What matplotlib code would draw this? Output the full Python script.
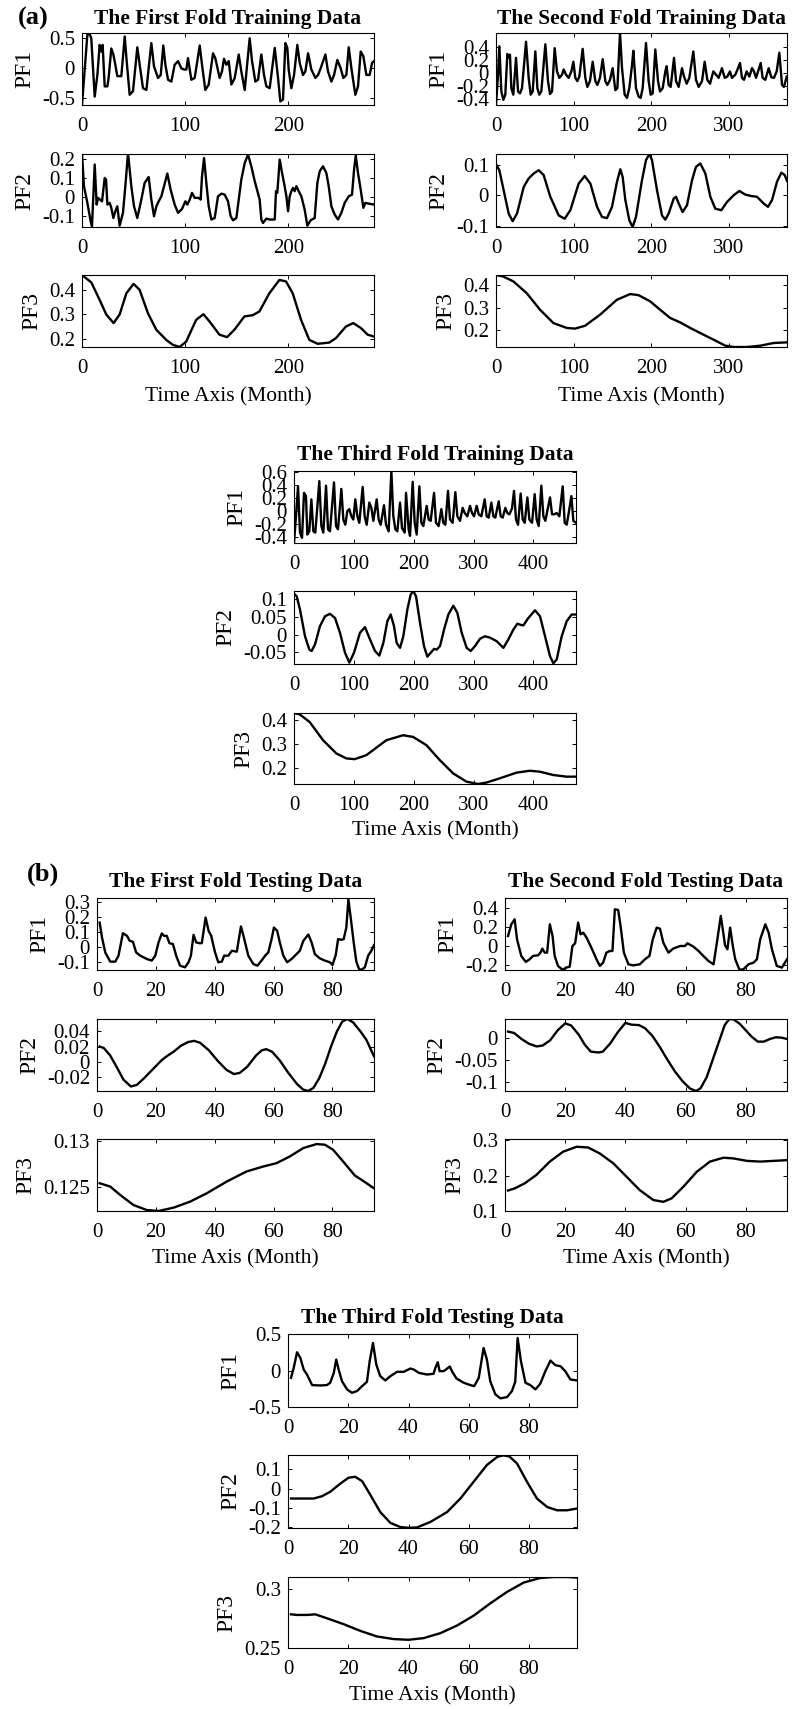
import matplotlib
matplotlib.use('Agg')
import matplotlib.pyplot as plt
from matplotlib.ticker import FuncFormatter

plt.rcParams['font.family'] = ['Liberation Serif', 'DejaVu Serif']

# ---------------- (a) training data ----------------
tr1_pf1_x = [0, 5.2, 7.4, 9.0, 12.3, 14.9, 17.1, 18.7, 20.0, 22.0, 24.6, 25.8, 28.4, 30.4, 32.3, 34.2, 36.2, 38.1,
             41.4, 43.3, 46.2, 49.4, 53.6, 55.9, 59.1, 62.4, 64.6, 67.2, 69.8, 73.7, 76.3, 78.8, 80.8, 83.4, 86.6,
             89.8, 93.1, 96.3, 98.9, 101.1, 102.7, 106.0, 109.2, 114.1, 116.3, 119.5, 122.8, 127.0, 129.2, 133.4,
             135.7, 137.6, 139.9, 142.2, 144.8, 148.0, 151.9, 154.4, 157.7, 162.5, 164.8, 168.0, 170.6, 173.8,
             176.4, 178.7, 181.9, 186.8, 190.0, 192.2, 194.8, 197.1, 199.0, 200.3, 202.9, 205.5, 208.7, 211.0,
             214.2, 216.5, 219.1, 222.3, 226.2, 228.8, 231.3, 235.9, 238.4, 241.7, 244.3, 247.5, 250.7, 253.3,
             256.2, 258.5, 261.1, 264.9, 267.5, 270.1, 272.7, 275.6, 278.8, 281.1, 283.0]
tr1_pf1_y = [-0.62, 0.55, 0.56, 0.49, -0.48, -0.12, 0.38, 0.27, 0.38, -0.31, -0.31, -0.17, 0.32, 0.22, 0.05, -0.14,
             -0.14, -0.14, 0.52, 0.11, -0.45, -0.39, 0.34, 0.05, -0.34, -0.37, -0.01, 0.41, 0.02, -0.17, -0.12,
             0.37, 0.05, -0.2, -0.23, 0.05, 0.11, -0.01, -0.03, -0.03, 0.16, -0.2, -0.17, 0.37, 0.05, -0.37, -0.28,
             0.24, 0.16, -0.17, -0.06, 0.15, 0.05, 0.11, -0.28, -0.17, 0.22, -0.06, -0.37, 0.49, 0.11, -0.23, -0.2,
             0.22, -0.12, -0.31, -0.34, 0.33, -0.17, -0.56, -0.53, 0.41, 0.33, -0.03, -0.34, -0.12, 0.38, 0.08,
             -0.12, -0.06, 0.24, -0.03, -0.17, -0.12, -0.01, 0.22, -0.06, -0.23, -0.12, 0.13, -0.01, -0.17, -0.12,
             0.34, -0.01, -0.45, -0.31, 0.27, 0.19, -0.12, -0.12, 0.08, 0.11]

tr1_pf2_x = [0, 1.9, 5.2, 8.4, 9.7, 12.3, 14.2, 15.5, 17.4, 19.4, 22.0, 23.3, 24.6, 26.8, 28.4, 30.4, 32.3, 34.2,
             36.5, 39.7, 42.0, 44.6, 47.8, 50.4, 53.6, 57.5, 60.7, 64.6, 67.2, 69.8, 72.1, 74.3, 76.9, 79.5, 82.7,
             85.9, 89.8, 93.1, 96.9, 100.2, 102.1, 104.4, 106.6, 109.2, 113.1, 115.0, 116.3, 118.3, 120.5, 122.8,
             125.4, 128.6, 131.8, 135.1, 138.3, 141.5, 144.1, 146.4, 149.6, 154.4, 157.7, 160.9, 164.1, 167.4,
             172.2, 173.8, 175.4, 178.7, 181.9, 186.8, 188.0, 189.3, 191.6, 193.9, 196.4, 198.1, 199.7, 201.3,
             202.9, 204.5, 206.1, 207.8, 210.0, 212.6, 215.8, 218.4, 221.6, 225.5, 228.1, 230.4, 233.6, 236.8,
             239.1, 241.7, 244.9, 248.1, 251.4, 254.6, 258.5, 261.7, 263.7, 265.3, 267.5, 270.1, 272.7, 274.6,
             277.9, 283.0]
tr1_pf2_y = [0.221, 0.056, -0.031, -0.127, -0.153, 0.169, -0.040, -0.005, -0.014, -0.023, 0.099, 0.090, -0.040,
             -0.031, -0.057, -0.110, -0.075, -0.049, -0.150, -0.083, 0.056, 0.230, 0.056, -0.049, -0.110, -0.014,
             0.073, 0.104, -0.014, -0.101, -0.049, -0.023, 0.003, 0.056, 0.122, 0.038, -0.040, -0.083, -0.063,
             -0.023, -0.040, -0.014, 0.021, -0.005, -0.005, -0.014, 0.108, 0.203, 0.073, -0.049, -0.118, -0.110,
             0.003, 0.017, 0.012, -0.023, -0.101, -0.122, -0.110, 0.090, 0.177, 0.221, 0.160, 0.082, -0.014, -0.118,
             -0.136, -0.113, -0.118, -0.118, 0.030, 0.021, 0.195, 0.125, 0.056, 0.003, -0.075, 0.003, 0.030, 0.047,
             0.030, 0.056, 0.030, 0.003, -0.066, -0.150, -0.122, -0.110, 0.073, 0.134, 0.160, 0.125, 0.056, -0.049,
             -0.092, -0.118, -0.083, -0.031, 0.003, 0.012, 0.143, 0.216, 0.125, 0.038, -0.057, -0.031, -0.035,
             -0.040]

tr1_pf3_x = [0, 9, 17, 23.5, 30.6, 36.5, 43, 50, 55.8, 63.9, 72, 81.6, 88, 94.5, 101, 110.6, 117.7, 123.5, 133.2,
             140.6, 147.7, 157.4, 165.5, 171.9, 181.6, 191.3, 197.7, 204.2, 212.3, 220.3, 228.4, 239.7, 246.1,
             255.8, 262.9, 270.3, 276.8, 282.6]
tr1_pf3_y = [0.46, 0.43, 0.36, 0.30, 0.265, 0.30, 0.386, 0.424, 0.40, 0.305, 0.238, 0.197, 0.177, 0.168, 0.19,
             0.278, 0.301, 0.272, 0.218, 0.208, 0.238, 0.292, 0.297, 0.312, 0.386, 0.44, 0.434, 0.386, 0.278, 0.197,
             0.181, 0.186, 0.204, 0.251, 0.265, 0.245, 0.218, 0.211]

tr2_pf1_x = [0, 2.6, 4.3, 6.9, 9.5, 12.0, 14.6, 16.3, 18.0, 19.8, 22.3, 25.8, 28.4, 30.9, 33.5, 38.7, 42.1, 44.7,
             47.3, 50.7, 53.3, 55.8, 58.4, 63.6, 67.0, 69.6, 72.2, 75.6, 78.6, 81.6, 85.1, 87.2, 90.2, 93.6, 97.1,
             99.7, 102.2, 104.8, 107.4, 111.7, 115.1, 117.7, 121.1, 124.6, 128.0, 130.6, 134.0, 137.5, 140.9,
             143.5, 146.9, 150.3, 153.8, 156.4, 159.8, 162.4, 165.8, 168.8, 171.8, 175.3, 177.0, 180.4, 183.8,
             186.4, 189.0, 193.3, 196.7, 199.3, 201.9, 205.3, 208.8, 211.3, 214.8, 218.2, 219.9, 222.5, 225.1,
             229.4, 232.0, 235.4, 239.7, 242.3, 245.7, 249.1, 254.3, 257.7, 261.2, 265.5, 268.9, 272.3, 275.8,
             280.1, 283.5, 286.9, 291.2, 294.7, 298.1, 301.5, 304.1, 308.4, 311.9, 314.4, 317.0, 319.6, 323.0,
             326.5, 329.9, 332.5, 335.1, 338.5, 341.1, 343.6, 347.1, 351.4, 354.8, 358.2, 361.7, 365.1, 368.6,
             371.1, 374.6]
tr2_pf1_y = [-0.50, -0.03, 0.41, -0.29, -0.42, -0.34, 0.29, 0.23, 0.28, -0.24, -0.34, 0.23, -0.29, -0.32, -0.24,
             0.48, -0.08, -0.34, -0.29, 0.33, -0.24, -0.34, -0.29, 0.44, -0.13, -0.33, -0.29, 0.38, 0.02, -0.08,
             -0.03, 0.05, -0.03, -0.08, 0.02, 0.17, -0.08, -0.13, -0.06, 0.37, -0.08, -0.22, -0.13, 0.17, -0.13,
             -0.19, -0.08, 0.21, -0.13, -0.19, -0.11, 0.07, -0.27, -0.24, 0.615, 0.07, -0.34, -0.39, -0.24, 0.12,
             0.34, -0.24, -0.37, -0.39, -0.24, 0.46, -0.13, -0.34, -0.32, 0.36, -0.13, -0.29, -0.24, 0.02, 0.10,
             -0.19, -0.22, 0.23, -0.13, -0.22, 0.07, -0.06, -0.17, -0.08, 0.33, -0.11, -0.22, -0.13, 0.17, -0.11,
             -0.17, 0.02, -0.03, -0.08, 0.07, -0.08, -0.06, 0.02, -0.08, -0.03, 0.07, 0.15, -0.08, -0.11, 0.02,
             -0.06, 0.07, 0.02, -0.08, 0.05, 0.15, -0.08, -0.11, 0.07, -0.07, -0.08, 0.02, 0.31, -0.19, -0.22,
             -0.06]

tr2_pf2_x = [0, 4.3, 9.9, 16.3, 21.5, 27.1, 35.7, 42.1, 48.5, 55.0, 61.4, 70.0, 80.8, 88.5, 95.8, 106.5, 114.3,
             121.6, 130.2, 136.6, 143.0, 149.5, 155.9, 160.2, 163.2, 166.7, 171.8, 176.1, 180.4, 188.1, 193.3,
             197.6, 201.0, 207.5, 213.9, 218.2, 222.5, 229.0, 232.0, 235.4, 240.5, 246.1, 252.6, 257.7, 263.3,
             269.8, 276.2, 282.6, 290.4, 297.7, 306.3, 313.6, 321.3, 329.9, 336.3, 344.9, 350.5, 355.7, 362.1,
             367.7, 372.0, 375.0]
tr2_pf2_y = [0.102, 0.082, 0.016, -0.060, -0.085, -0.060, 0.027, 0.055, 0.071, 0.082, 0.066, -0.005, -0.066,
             -0.077, -0.049, 0.038, 0.063, 0.038, -0.038, -0.071, -0.075, -0.038, 0.044, 0.085, 0.060, -0.016,
             -0.082, -0.104, -0.071, 0.049, 0.115, 0.135, 0.115, 0.016, -0.066, -0.080, -0.060, -0.011, -0.005,
             -0.027, -0.055, -0.033, 0.049, 0.093, 0.104, 0.071, -0.005, -0.044, -0.049, -0.022, 0.000, 0.014,
             0.002, -0.003, -0.005, -0.027, -0.038, -0.016, 0.044, 0.074, 0.066, 0.047]

tr2_pf3_x = [0, 9.5, 22.4, 39.6, 56.8, 74, 91.2, 101.9, 114.8, 134.2, 155.7, 172.9, 183.7, 198.7, 211.6, 224.5,
             237.4, 250.3, 263.2, 280.4, 295.5, 306.2, 323.4, 340.6, 357.8, 375]
tr2_pf3_y = [0.447, 0.44, 0.418, 0.365, 0.29, 0.23, 0.208, 0.205, 0.218, 0.268, 0.335, 0.361, 0.356, 0.328, 0.29,
             0.253, 0.233, 0.208, 0.185, 0.155, 0.128, 0.122, 0.122, 0.128, 0.14, 0.143]

tr3_pf1_x = [0, 3.3, 6.7, 10.0, 13.4, 16.7, 20.0, 22.3, 25.6, 29.0, 32.3, 35.6, 42.3, 45.7, 49.0, 53.5, 56.8,
             60.1, 66.8, 70.2, 73.5, 79.1, 82.4, 85.7, 89.1, 92.4, 95.8, 99.1, 102.4, 105.8, 109.1, 114.7, 118.0,
             121.4, 125.8, 129.2, 132.5, 138.1, 141.4, 144.8, 150.3, 153.7, 158.1, 162.6, 165.9, 169.3, 172.6,
             177.1, 180.4, 184.9, 187.1, 191.5, 193.8, 198.2, 201.6, 204.9, 209.4, 212.7, 216.0, 221.6, 224.9,
             228.3, 233.9, 237.2, 241.6, 246.1, 249.4, 252.8, 257.2, 260.6, 265.0, 269.5, 272.8, 277.3, 281.7,
             285.1, 289.5, 294.0, 297.3, 300.7, 305.1, 308.5, 312.9, 318.5, 321.8, 325.2, 329.6, 333.0, 336.3,
             341.9, 345.2, 348.6, 353.0, 356.3, 359.7, 364.1, 367.5, 370.8, 374.2, 378.6, 382.0, 385.3, 389.8,
             393.1, 397.6, 402.0, 405.3, 408.7, 413.1, 416.5, 419.8, 427.6, 431.0, 434.3, 438.8, 443.2, 448.8,
             452.1, 455.5, 458.8, 463.3, 466.6, 471.0]
tr3_pf1_y = [-0.49, -0.08, 0.38, -0.33, -0.41, 0.28, 0.23, -0.36, -0.31, 0.18, -0.31, -0.33, 0.46, -0.23, -0.33,
             0.39, -0.28, -0.31, 0.44, -0.23, -0.28, 0.34, -0.13, -0.21, 0.00, 0.03, -0.08, -0.13, 0.18, -0.08,
             -0.18, 0.37, -0.08, -0.21, 0.13, 0.05, -0.15, 0.18, -0.13, -0.21, 0.09, -0.21, -0.31, 0.615, -0.08,
             -0.28, -0.31, 0.13, -0.26, -0.33, 0.28, -0.28, -0.38, 0.45, -0.18, -0.36, 0.38, -0.18, -0.23, 0.08,
             -0.13, -0.15, 0.28, -0.18, -0.23, 0.03, -0.18, -0.21, 0.31, -0.13, -0.18, 0.29, -0.08, -0.15, 0.05,
             -0.03, -0.08, 0.08, -0.03, -0.08, 0.08, -0.05, -0.08, 0.18, -0.08, -0.10, 0.13, -0.08, -0.10, 0.15,
             -0.08, -0.10, 0.05, -0.03, -0.05, 0.04, 0.31, -0.13, -0.21, 0.27, -0.13, -0.18, 0.21, -0.13, -0.18,
             0.26, -0.13, -0.23, 0.39, -0.08, -0.15, 0.21, -0.05, -0.05, -0.03, -0.08, 0.38, -0.18, -0.21, -0.03,
             0.23, -0.15, -0.18]

tr3_pf2_x = [0, 4.5, 10.0, 18.4, 25.6, 29.5, 35.1, 43.4, 51.8, 60.1, 68.5, 76.8, 85.2, 92.4, 100.2, 110.2, 118.6,
             126.9, 135.3, 142.5, 149.2, 155.9, 161.5, 167.0, 171.5, 177.1, 182.6, 189.3, 194.9, 199.3, 203.8,
             210.5, 217.1, 222.7, 228.3, 233.9, 238.3, 243.9, 250.6, 257.8, 266.1, 272.8, 280.1, 288.4, 295.1,
             302.3, 310.7, 319.0, 327.4, 338.5, 349.7, 358.0, 366.4, 373.1, 377.5, 383.1, 391.4, 402.6, 410.9,
             419.3, 427.6, 433.2, 438.8, 447.1, 455.5, 463.8, 471.0]
tr3_pf2_y = [0.116, 0.109, 0.071, -0.005, -0.043, -0.047, -0.028, 0.024, 0.052, 0.059, 0.047, 0.005, -0.052,
             -0.080, -0.052, 0.005, 0.021, -0.014, -0.047, -0.060, -0.024, 0.038, 0.057, 0.024, -0.024, -0.038,
             -0.005, 0.071, 0.114, 0.124, 0.109, 0.033, -0.033, -0.063, -0.052, -0.041, -0.043, -0.033, 0.014,
             0.057, 0.082, 0.062, 0.005, -0.038, -0.047, -0.033, -0.012, -0.005, -0.009, -0.019, -0.038, -0.014,
             0.014, 0.031, 0.028, 0.026, 0.047, 0.069, 0.052, -0.005, -0.062, -0.082, -0.071, -0.005, 0.038, 0.057,
             0.057]

tr3_pf3_x = [0, 9.5, 26.2, 48.5, 70.8, 87.5, 101.4, 120.9, 154.3, 182.2, 198.9, 221.2, 243.5, 265.7, 288, 307.5,
             321.4, 343.7, 371.6, 393.9, 410.6, 432.9, 455.2, 470.8]
tr3_pf3_y = [0.431, 0.425, 0.393, 0.316, 0.26, 0.239, 0.236, 0.253, 0.316, 0.337, 0.33, 0.295, 0.232, 0.176,
             0.141, 0.131, 0.137, 0.155, 0.179, 0.187, 0.183, 0.169, 0.162, 0.162]

# ---------------- (b) testing data ----------------
te1_pf1_x = [0.9, 1.7, 2.8, 4.5, 6.2, 7.3, 8.8, 10.2, 11.1, 12.2, 13.3, 14.7, 16.9, 18.6, 19.8, 20.9, 22.0, 22.8,
             23.7, 24.6, 25.8, 26.9, 28.2, 29.9, 31.1, 31.9, 32.8, 33.7, 34.8, 35.6, 36.9, 37.9, 38.8, 40.1, 41.2,
             42.4, 43.2, 44.6, 45.8, 47.5, 48.0, 48.9, 49.9, 51.4, 53.1, 54.5, 55.9, 57.1, 58.2, 59.3, 60.1, 61.2,
             62.1, 63.3, 64.6, 66.1, 67.8, 68.9, 70.1, 71.8, 72.9, 74.0, 75.7, 77.4, 79.1, 80.0, 81.1, 81.9, 83.1,
             83.8, 84.7, 85.4, 86.4, 87.2, 88.1, 89.0, 89.8, 91.0, 92.1, 93.2, 94.1]
te1_pf1_y = [0.162, 0.062, -0.038, -0.1, -0.1, -0.06, 0.091, 0.073, 0.04, 0.033, -0.038, -0.06, -0.082, -0.093,
             -0.06, 0.029, 0.089, 0.073, 0.073, 0.024, 0.018, -0.06, -0.127, -0.138, -0.104, -0.06, 0.08, 0.029,
             0.024, 0.024, 0.196, 0.107, 0.073, -0.038, -0.104, -0.1, -0.06, -0.06, -0.027, -0.033, 0.029, 0.136,
             0.062, -0.06, -0.116, -0.127, -0.093, -0.06, -0.038, 0.051, 0.129, 0.107, 0.029, -0.06, -0.104,
             -0.082, -0.049, -0.027, 0.04, 0.082, 0.029, -0.049, -0.078, -0.093, -0.104, -0.122, -0.056, 0.051,
             0.047, 0.051, 0.129, 0.318, 0.162, 0.029, -0.1, -0.149, -0.155, -0.138, -0.06, -0.027, 0.011]

te1_pf2_x = [0.9, 2.3, 4.5, 6.8, 9.0, 11.5, 13.5, 16, 19, 22, 24, 26, 28.5, 31, 33, 35, 38, 41, 44, 46.5, 48.5, 51,
             54, 56, 57.5, 59.5, 62, 65, 68, 70, 71.7, 73.5, 75.5, 77.5, 79.5, 81.5, 83.3, 85, 87, 89.5, 91.5, 94.1]
te1_pf2_y = [0.02, 0.018, 0.008, -0.008, -0.024, -0.033, -0.031, -0.022, -0.01, 0.002, 0.008, 0.013, 0.021, 0.026,
             0.0275, 0.025, 0.015, 0.001, -0.011, -0.0165, -0.015, -0.007, 0.008, 0.015, 0.0165, 0.013, 0.002,
             -0.015, -0.030, -0.037, -0.039, -0.035, -0.022, -0.003, 0.020, 0.040, 0.053, 0.0565, 0.052, 0.040,
             0.029, 0.007]

te1_pf3_x = [0.9, 4.5, 7.9, 12.4, 16.9, 20.9, 26, 31.6, 37.3, 44.1, 50.8, 56.5, 61, 65.5, 70.1, 74.6, 77.4, 80.2,
             83.6, 87.6, 90.4, 94.1]
te1_pf3_y = [0.12537, 0.1250, 0.12407, 0.12296, 0.12241, 0.12230, 0.12267, 0.12333, 0.12426, 0.12556, 0.12667,
             0.12722, 0.12759, 0.12833, 0.12926, 0.12970, 0.12963, 0.12907, 0.12778, 0.12622, 0.12563, 0.12481]

te2_pf1_x = [1, 2.1, 3.2, 4, 5.4, 6.9, 8.2, 9.3, 11, 11.8, 12.4, 13.2, 14, 14.9, 15.8, 16.5, 17.6, 19.1, 20.4,
             21.5, 22.4, 23.3, 24.3, 25.1, 26, 27.1, 28.7, 30.4, 31.5, 32.6, 33.7, 34.8, 35.7, 36.5, 37.6, 38.4,
             39.5, 41, 42.6, 44.8, 46.5, 48, 49.1, 50.4, 51.5, 52.6, 54.3, 55.9, 58.2, 59.8, 60.6, 62.6, 64.3,
             65.9, 67.6, 69.3, 70.4, 71.7, 72.6, 73.1, 73.9, 74.8, 75.7, 76.5, 77.9, 79.2, 80.9, 82.6, 83.7, 84.8,
             86.5, 87.6, 88.7, 90.3, 92, 93.7]
te2_pf1_y = [0.105, 0.228, 0.281, 0.07, -0.105, -0.168, -0.14, -0.105, -0.098, -0.07, -0.028, -0.07, -0.07, 0.228,
             0.105, -0.105, -0.21, -0.25, -0.228, -0.218, 0, 0.028, 0.246, 0.123, 0.14, 0.088, -0.018, -0.14,
             -0.21, -0.175, -0.07, -0.053, -0.053, 0.386, 0.379, 0.21, -0.07, -0.193, -0.204, -0.193, -0.14,
             -0.105, 0.07, 0.193, 0.182, 0.035, -0.07, -0.028, 0, 0, 0.028, -0.007, -0.053, -0.105, -0.158, -0.193,
             0.035, 0.316, 0.123, 0.007, -0.035, 0.193, 0, -0.14, -0.25, -0.246, -0.193, -0.175, -0.14, 0.07,
             0.228, 0.14, -0.035, -0.21, -0.228, -0.14]

te2_pf2_x = [1, 3, 5.5, 8, 10.5, 12.5, 15, 17.5, 20, 22, 24.5, 26.5, 28.5, 31, 32.5, 35, 37.5, 40, 42, 44.5, 46.5,
             49, 51.5, 54, 56.5, 59, 61.5, 63.5, 65, 67, 69, 71, 73, 74.5, 76, 78, 80, 82, 84, 86, 88, 90, 92, 93.7]
te2_pf2_y = [0.015, 0.012, -0.002, -0.013, -0.019, -0.017, -0.005, 0.018, 0.034, 0.029, 0.008, -0.015, -0.031,
             -0.033, -0.031, -0.012, 0.014, 0.035, 0.031, 0.030, 0.023, 0.005, -0.021, -0.050, -0.077, -0.099,
             -0.116, -0.1215, -0.115, -0.090, -0.050, -0.010, 0.030, 0.044, 0.043, 0.033, 0.018, 0.003, -0.008,
             -0.008, -0.002, 0.002, 0.001, -0.002]

te2_pf3_x = [1, 3.2, 6.5, 10.4, 14.9, 19.3, 23.8, 27.6, 31.5, 36, 40.4, 44.8, 49.3, 52.6, 55.4, 59.3, 63.7, 68.1,
             72.6, 75.9, 80.4, 84.8, 89.2, 93.7]
te2_pf3_y = [0.158, 0.164, 0.178, 0.202, 0.24, 0.268, 0.282, 0.28, 0.263, 0.235, 0.197, 0.159, 0.131, 0.126,
             0.136, 0.169, 0.211, 0.24, 0.251, 0.249, 0.242, 0.24, 0.242, 0.244]

te3_pf1_x = [1, 1.9, 3, 4.1, 5.2, 6.3, 8, 10.7, 12.9, 14, 15.2, 16, 16.8, 17.9, 19.6, 21.2, 22.9, 24.6, 26.2, 27.1,
             28.2, 29.3, 30.6, 32.3, 34, 36.2, 38.4, 40.6, 41.7, 43.4, 46.1, 48.3, 48.9, 49.7, 50.3, 51.7, 53.7,
             54.4, 55.9, 58.3, 60.5, 61.8, 63.3, 64.9, 66, 67.1, 68.8, 70.5, 72.7, 74.3, 75.4, 76.2, 77.3, 78.8,
             80.4, 82.1, 83.7, 85.4, 87.1, 88.7, 90.4, 92, 93.7, 95.9]
te3_pf1_y = [-0.1, 0.036, 0.25, 0.173, 0.014, -0.055, -0.2, -0.205, -0.2, -0.168, -0.032, 0.15, 0.014, -0.145,
             -0.259, -0.305, -0.282, -0.214, -0.155, 0.127, 0.377, 0.082, -0.077, -0.136, -0.077, -0.018, -0.018,
             0.027, 0.014, -0.032, -0.055, -0.045, 0.036, 0.114, -0.009, -0.009, 0.055, -0.009, -0.109, -0.168,
             -0.2, -0.214, -0.1, 0.309, 0.15, -0.145, -0.327, -0.382, -0.364, -0.282, -0.155, 0.445, 0.127, -0.168,
             -0.2, -0.259, -0.182, -0.009, 0.136, 0.073, 0.059, -0.009, -0.123, -0.136]

te3_pf2_x = [1, 4.1, 8.5, 11.3, 14, 17.4, 20.1, 22.3, 24.6, 27.4, 30.6, 34, 37.3, 40, 42.8, 47.2, 52.8, 57.2, 61.6,
             66, 69.5, 71.5, 73.5, 76, 79.3, 82.6, 86, 89.3, 92.6, 95.9]
te3_pf2_y = [-0.052, -0.052, -0.052, -0.04, -0.017, 0.026, 0.056, 0.061, 0.038, -0.035, -0.122, -0.179, -0.200,
             -0.204, -0.202, -0.174, -0.122, -0.052, 0.035, 0.122, 0.165, 0.172, 0.166, 0.13, 0.035, -0.052, -0.096,
             -0.113, -0.113, -0.104]

te3_pf3_x = [1, 3, 6.3, 9.1, 12.9, 18.5, 24, 29.5, 35.1, 40, 45, 50.6, 56.1, 61.6, 67.1, 72.7, 78.2, 83.7, 88.2,
             92.6, 95.9]
te3_pf3_y = [0.2783, 0.2778, 0.2778, 0.2783, 0.275, 0.27, 0.2644, 0.2597, 0.2575, 0.2569, 0.2583, 0.2625, 0.2689,
             0.2772, 0.2875, 0.2972, 0.305, 0.3089, 0.3097, 0.3097, 0.3092]

titles = ["The First Fold Training Data", "The Second Fold Training Data", "The Third Fold Training Data",
          "The First Fold Testing Data", "The Second Fold Testing Data", "The Third Fold Testing Data"]
ylabels = ["PF1", "PF2", "PF3"]
xlabel_text = "Time Axis (Month)"

# ---------------- layout ----------------
W, H = 797, 1709
fig = plt.figure(figsize=(W / 100, H / 100), dpi=100)


def add_ax(l, t, r, b):
    return fig.add_axes([l / W, 1 - b / H, (r - l) / W, (b - t) / H])


fmt = FuncFormatter(lambda v, p: f"{v:g}")

groups = [
    dict(l=82, r=374, rows=[(33, 105), (154, 227), (275, 347)], xlim=(0, 283), xt=[0, 100, 200],
         s=[(tr1_pf1_x, tr1_pf1_y), (tr1_pf2_x, tr1_pf2_y), (tr1_pf3_x, tr1_pf3_y)],
         yl=[(-0.62, 0.578), (-0.157, 0.224), (0.168, 0.46)],
         yt=[[-0.5, 0, 0.5], [-0.1, 0, 0.1, 0.2], [0.2, 0.3, 0.4]], ty=1.2, xly=-0.69),
    dict(l=496, r=787, rows=[(33, 105), (154, 227), (275, 347)], xlim=(0, 375), xt=[0, 100, 200, 300],
         s=[(tr2_pf1_x, tr2_pf1_y), (tr2_pf2_x, tr2_pf2_y), (tr2_pf3_x, tr2_pf3_y)],
         yl=[(-0.50, 0.615), (-0.104, 0.135), (0.122, 0.447)],
         yt=[[-0.4, -0.2, 0, 0.2, 0.4], [-0.1, 0, 0.1], [0.2, 0.3, 0.4]], ty=1.2, xly=-0.69),
    dict(l=294, r=576, rows=[(471, 543), (591, 664), (713, 784)], xlim=(0, 471), xt=[0, 100, 200, 300, 400],
         s=[(tr3_pf1_x, tr3_pf1_y), (tr3_pf2_x, tr3_pf2_y), (tr3_pf3_x, tr3_pf3_y)],
         yl=[(-0.49, 0.615), (-0.084, 0.124), (0.131, 0.431)],
         yt=[[-0.4, -0.2, 0, 0.2, 0.4, 0.6], [-0.05, 0, 0.05, 0.1], [0.2, 0.3, 0.4]], ty=1.22, xly=-0.66),
    dict(l=97, r=374, rows=[(898, 970), (1019, 1091), (1139, 1211)], xlim=(0, 94.1), xt=[0, 20, 40, 60, 80],
         s=[(te1_pf1_x, te1_pf1_y), (te1_pf2_x, te1_pf2_y), (te1_pf3_x, te1_pf3_y)],
         yl=[(-0.156, 0.327), (-0.039, 0.0565), (0.1223, 0.13026)],
         yt=[[-0.1, 0, 0.1, 0.2, 0.3], [-0.02, 0, 0.02, 0.04], [0.125, 0.13]], ty=1.22, xly=-0.67),
    dict(l=505, r=787, rows=[(898, 970), (1019, 1091), (1139, 1211)], xlim=(0, 93.7), xt=[0, 20, 40, 60, 80],
         s=[(te2_pf1_x, te2_pf1_y), (te2_pf2_x, te2_pf2_y), (te2_pf3_x, te2_pf3_y)],
         yl=[(-0.253, 0.505), (-0.1215, 0.044), (0.1, 0.304)],
         yt=[[-0.2, 0, 0.2, 0.4], [-0.1, -0.05, 0], [0.1, 0.2, 0.3]], ty=1.22, xly=-0.67),
    dict(l=288, r=577, rows=[(1334, 1407), (1455, 1528), (1577, 1648)], xlim=(0, 95.9), xt=[0, 20, 40, 60, 80],
         s=[(te3_pf1_x, te3_pf1_y), (te3_pf2_x, te3_pf2_y), (te3_pf3_x, te3_pf3_y)],
         yl=[(-0.49, 0.5), (-0.205, 0.174), (0.25, 0.3097)],
         yt=[[-0.5, 0, 0.5], [-0.2, -0.1, 0, 0.1], [0.25, 0.3]], ty=1.22, xly=-0.68),
]

TICK_FS = 15
for gi, g in enumerate(groups):
    for ri, (t, b) in enumerate(g['rows']):
        ax = add_ax(g['l'], t, g['r'], b)
        x, y = g['s'][ri]
        ax.plot(x, y, color='black', lw=1.7)
        ax.set_xlim(*g['xlim'])
        ax.set_ylim(*g['yl'][ri])
        ax.set_xticks(g['xt'])
        ax.set_yticks(g['yt'][ri])
        ax.xaxis.set_major_formatter(fmt)
        ax.yaxis.set_major_formatter(fmt)
        ax.tick_params(direction='in', top=True, right=True, length=3, width=0.7, labelsize=TICK_FS)
        ax.tick_params(axis='x', pad=8.5)
        ax.tick_params(axis='y', pad=5)
        for sp in ax.spines.values():
            sp.set_linewidth(0.8)
        ax.set_ylabel(ylabels[ri], fontsize=17, labelpad=5)
        if ri == 0:
            ax.text(0.5, g['ty'], titles[gi], transform=ax.transAxes, ha='center', va='center',
                    fontsize=15.5, fontweight='bold')
        if ri == 2:
            ax.set_xlabel(xlabel_text, fontsize=15.5)
            ax.xaxis.set_label_coords(0.5, g['xly'])
            ax.xaxis.label.set_va('center')

fig.text(33 / W, 1 - 18 / H, "(a)", ha='center', va='center', fontsize=19, fontweight='bold')
fig.text(43 / W, 1 - 874 / H, "(b)", ha='center', va='center', fontsize=19, fontweight='bold')

fig.savefig('out.png', dpi=100)
